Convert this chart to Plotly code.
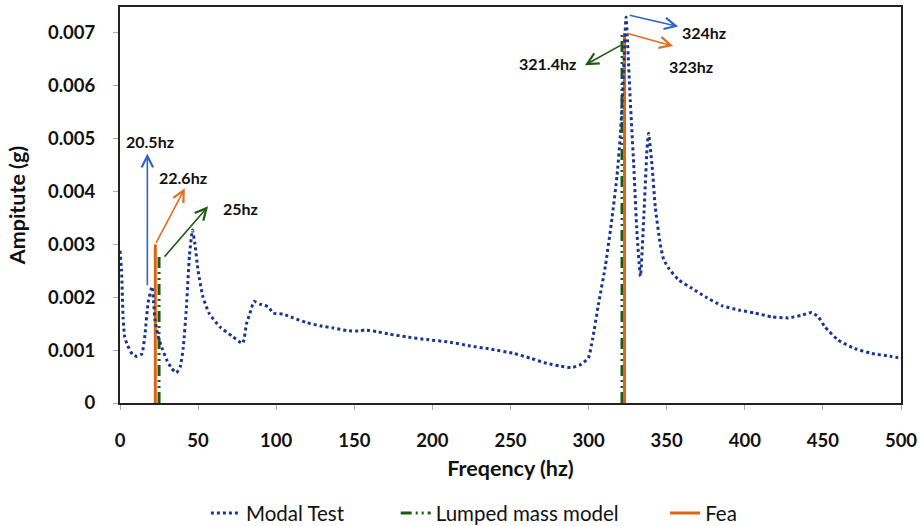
import plotly.graph_objects as go

# Modal test response (frequency in Hz, amplitude in g)
modal_freq = [0, 1, 2, 3, 5, 8, 11, 14, 16, 18, 20.5, 21.5, 22.5, 25, 27, 30, 33, 36,
              38.5, 40.5, 42.5, 44.5, 46.4, 48, 50, 53, 57, 64, 72, 78.5, 81, 83.2,
              85.8, 89.6, 94.9, 98.1, 104.5, 110.9, 119.5, 128, 136.6, 145.1, 152.6,
              156.8, 164.3, 172.9, 183.5, 196.3, 211.3, 224.1, 236.9, 251.8, 262.5,
              273.2, 281.7, 289.2, 294.5, 299.8, 302.5, 306.5, 310.8, 315, 318.2,
              320.4, 322, 323.2, 324, 326.7, 328.9, 331, 333.2, 335.3, 337.4, 338.4,
              340.6, 342.7, 345.9, 348, 351.2, 357.6, 366.1, 374.7, 385.3, 396,
              406.6, 417.2, 427.9, 436.4, 442.8, 447, 451.3, 459.8, 470.4, 481,
              493.8, 500]
modal_amp = [0.00288, 0.0025, 0.0016, 0.00125, 0.00108, 0.00092, 0.00088, 0.00093,
             0.0013, 0.0019, 0.0022, 0.0019, 0.00155, 0.0012, 0.00103, 0.00081,
             0.00066, 0.00057, 0.00068, 0.00105, 0.0018, 0.0028, 0.00327, 0.003,
             0.0025, 0.00202, 0.0017, 0.00144, 0.00126, 0.00113, 0.0015, 0.0017,
             0.00192, 0.00187, 0.00182, 0.0017, 0.00168, 0.00161, 0.00152, 0.00146,
             0.00142, 0.00137, 0.00136, 0.00138, 0.00135, 0.0013, 0.00125, 0.0012,
             0.00115, 0.00108, 0.00102, 0.00094, 0.00085, 0.00075, 0.0007, 0.00067,
             0.00072, 0.00085, 0.0012, 0.0019, 0.0026, 0.0035, 0.0043, 0.0051,
             0.006, 0.0069, 0.0073, 0.0057, 0.0045, 0.0032, 0.0024, 0.0035, 0.0048,
             0.0051, 0.0045, 0.0037, 0.003, 0.00272, 0.00255, 0.00233, 0.00217,
             0.00201, 0.00184, 0.00176, 0.0017, 0.00163, 0.00161, 0.00166, 0.00171,
             0.00163, 0.00144, 0.00119, 0.00103, 0.00094, 0.00088, 0.00085]

# Natural frequencies predicted by the two models
lumped_freq = [25, 321.4]
lumped_amp = [0.0028, 0.007]
fea_freq = [22.6, 323]
fea_amp = [0.003, 0.007]

y_ticks = [0, 0.001, 0.002, 0.003, 0.004, 0.005, 0.006, 0.007]
y_tick_text = ["0", "0.001", "0.002", "0.003", "0.004", "0.005", "0.006", "0.007"]
x_ticks = [0, 50, 100, 150, 200, 250, 300, 350, 400, 450, 500]

# Frequency callouts: label, arrow tail (x, y), arrow head (x, y), colour, label position
callouts = [
    ("20.5hz", (17.5, 0.0022), (17.5, 0.00472), "#2E64C8", (19, 0.00494)),
    ("22.6hz", (22.6, 0.003), (41.5, 0.00406), "#E07020", (40.5, 0.00427)),
    ("25hz", (27.7, 0.00274), (56.4, 0.00372), "#1E5C14", (77, 0.00368)),
    ("321.4hz", (321.4, 0.00678), (297.6, 0.00639), "#1E5C14", (274, 0.00643)),
    ("324hz", (325.4, 0.00734), (357.4, 0.00712), "#2E64C8", (374, 0.00700)),
    ("323hz", (323.6, 0.007), (354.2, 0.00675), "#E07020", (365.5, 0.00636)),
]


def stems(freqs, amps):
    xs, ys = [], []
    for f, a in zip(freqs, amps):
        xs += [f, f, None]
        ys += [0, a, None]
    return xs, ys


fig = go.Figure()

lx, ly = stems(lumped_freq, lumped_amp)
fig.add_trace(go.Scatter(
    x=lx, y=ly, mode="lines", name="Lumped mass model", legend="legend2",
    showlegend=True,
    line=dict(color="#1D5A12", width=3, dash="11px,4px,2px,4px,2px,4px"),
))

fx, fy = stems(fea_freq, fea_amp)
fig.add_trace(go.Scatter(
    x=fx, y=fy, mode="lines", name="Fea", legend="legend3", showlegend=True,
    line=dict(color="#DC6418", width=3),
))

fig.add_trace(go.Scatter(
    x=modal_freq, y=modal_amp, mode="lines", name="Modal Test", legend="legend",
    showlegend=True,
    line=dict(color="#1A3690", width=3, dash="dot", shape="spline", smoothing=0.5),
))

for label, tail, head, color, pos in callouts:
    fig.add_annotation(
        x=head[0], y=head[1], ax=tail[0], ay=tail[1],
        xref="x", yref="y", axref="x", ayref="y",
        text="", showarrow=True, arrowhead=5, arrowsize=1.4,
        arrowwidth=1.6, arrowcolor=color, standoff=0, startstandoff=0,
    )
    fig.add_annotation(
        x=pos[0], y=pos[1], xref="x", yref="y", text=label, showarrow=False,
        font=dict(family="Lato", size=16, color="#111111", weight="bold"),
    )

axis_common = dict(
    showline=True, linecolor="#222222", linewidth=2, mirror=True,
    showgrid=False, zeroline=False, ticks="outside", ticklen=5,
    tickcolor="#AAAAAA", tickwidth=1, automargin=False,
    tickfont=dict(family="Lato", size=18.5, color="#111111", weight="bold"),
)

fig.update_xaxes(
    range=[0, 500], tickvals=x_ticks, ticklabelstandoff=15,
    title=dict(text="Freqency (hz)", standoff=11,
               font=dict(family="Lato", size=21.5, color="#111111", weight="bold")),
    **axis_common,
)
fig.update_yaxes(
    range=[0, 0.00749], tickvals=y_ticks, ticktext=y_tick_text,
    ticklabelstandoff=14,
    title=dict(text="Ampitute (g)", standoff=16,
               font=dict(family="Lato", size=21.5, color="#111111", weight="bold")),
    **axis_common,
)

legend_style = dict(
    orientation="h", xanchor="left", y=-0.278, yanchor="middle",
    font=dict(family="Lato", size=20.5, color="#111111"),
    itemwidth=30, bgcolor="rgba(0,0,0,0)",
)

fig.update_layout(
    width=920, height=526, showlegend=True,
    margin=dict(l=120, r=19, t=7, b=123, autoexpand=False),
    plot_bgcolor="white", paper_bgcolor="white",
    legend=dict(x=0.110, **legend_style),
    legend2=dict(x=0.353, **legend_style),
    legend3=dict(x=0.698, **legend_style),
)

fig.write_html("out.html")
